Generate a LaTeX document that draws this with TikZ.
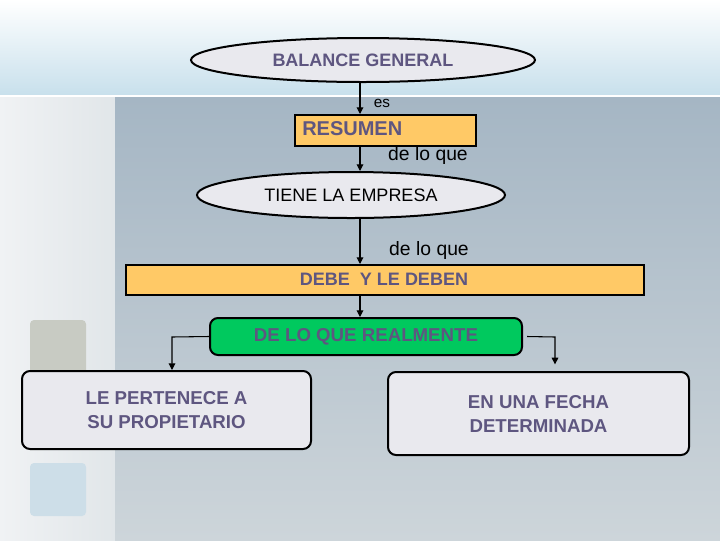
\documentclass[tikz,border=0pt]{standalone}
\usepackage{fontspec}
\setmainfont{Liberation Sans}
\usetikzlibrary{shapes.geometric,arrows.meta}
\definecolor{txtp}{HTML}{5E5680}
\definecolor{lgray}{HTML}{E9E9EE}
\definecolor{orng}{HTML}{FFC966}
\definecolor{grn}{HTML}{00C95E}
\definecolor{topb}{RGB}{200,224,236}
\definecolor{lft1}{RGB}{240,242,244}
\definecolor{lft2}{RGB}{225,230,233}
\definecolor{mid1}{RGB}{165,182,196}
\definecolor{mid2}{RGB}{205,213,218}
\definecolor{sq1}{RGB}{200,203,195}
\definecolor{sq2}{RGB}{205,222,232}
\tikzset{
  ell/.style={ellipse,draw=black,line width=1.5pt,fill=lgray,inner sep=0pt},
  box/.style={draw=black,line width=1.5pt,fill=orng,inner sep=0pt},
  rbox/.style={draw=black,line width=1.5pt,rounded corners=6pt,inner sep=0pt},
  arr/.style={-{Triangle[length=5pt,width=5pt]},line width=0.8pt},
  lab/.style={font=\fontsize{14.5}{16}\selectfont}
}
\begin{document}
\begin{tikzpicture}[x=0.75pt,y=-0.75pt]
\useasboundingbox (0,0) rectangle (720,540);
% background
\fill[white] (0,0) rectangle (720,540);
\shade[top color=white,bottom color=topb] (0,0) rectangle (720,95);
\shade[left color=lft1,right color=lft2] (0,95) rectangle (115,540);
\shade[top color=mid1,bottom color=mid2] (115,97) rectangle (720,540);
\draw[white,line width=1.5pt] (0,96) -- (720,96);
\fill[rounded corners=3pt,sq1] (30,320) rectangle (86,400);
\fill[rounded corners=3pt,sq2] (30,463) rectangle (86,516);
% nodes
\node[ell,minimum width=258pt,minimum height=33pt,font=\fontsize{13.5}{15}\selectfont\bfseries,text=txtp] (bg) at (363,60) {BALANCE GENERAL};
\node[box,minimum width=135.75pt,minimum height=23.25pt,anchor=north west] (res) at (294,114) {};
\node[anchor=west,inner sep=0pt,font=\fontsize{15}{17}\selectfont\bfseries,text=txtp] (rest) at (302,129) {RESUMEN};
\node[ell,minimum width=231pt,minimum height=34.5pt,font=\fontsize{13.5}{15}\selectfont] (tie) at (351,195) {TIENE LA EMPRESA};
\node[box,minimum width=388.5pt,minimum height=22.5pt,anchor=north west] (deb) at (125,264) {};
\node[font=\fontsize{13.5}{15}\selectfont\bfseries,text=txtp] (debt) at (384,279) {DEBE\ \ Y LE DEBEN};
\node[rbox,fill=grn,minimum width=234pt,minimum height=27.75pt,font=\fontsize{14}{16}\selectfont\bfseries,text=txtp] (real) at (366,336.5) {DE LO QUE REALMENTE};
\node[rbox,fill=lgray,minimum width=216.75pt,minimum height=58.5pt,align=center,font=\fontsize{14}{18}\selectfont\bfseries,text=txtp] (per) at (166.5,410) {LE PERTENECE A\\ SU PROPIETARIO};
\node[rbox,fill=lgray,minimum width=225.75pt,minimum height=62.25pt,align=center,font=\fontsize{14}{18}\selectfont\bfseries,text=txtp] (fec) at (538.5,413.5) {EN UNA FECHA\\ DETERMINADA};
% labels
\node[font=\fontsize{11.5}{13}\selectfont] (es) at (382,103) {es};
\node[lab] (dq1) at (428,155) {de lo que};
\node[lab] (dq2) at (429,250) {de lo que};
% connectors
\draw[arr] (bg.south -| 360,0) -- (res.north -| 360,0);
\draw[arr] (res.south -| 360,0) -- (tie.north -| 360,0);
\draw[arr] (tie.south -| 360,0) -- (deb.north -| 360,0);
\draw[arr] (deb.south -| 360,0) -- (real.north -| 360,0);
\draw[arr] (real.west) -- (172,337) -- (per.north -| 172,0);
\draw[arr] ([xshift=3pt]real.east) -- (555,337) -- ([yshift=5pt]fec.north -| 555,0);
\end{tikzpicture}
\end{document}
